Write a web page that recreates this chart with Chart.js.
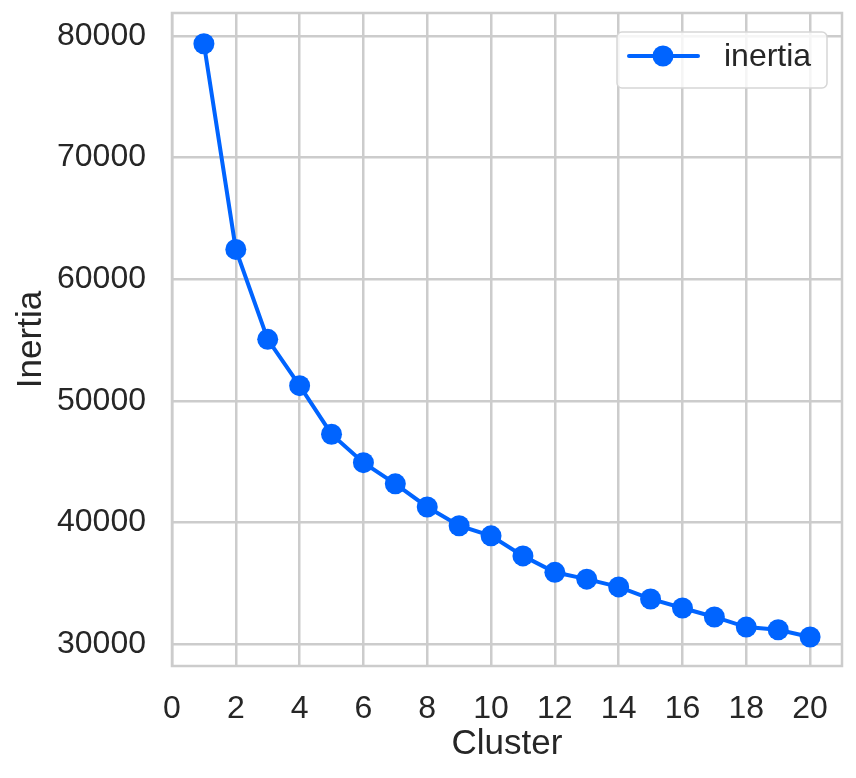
<!DOCTYPE html>
<html><head><meta charset="utf-8">
<script src="https://cdn.jsdelivr.net/npm/chart.js@4.4.1/dist/chart.umd.min.js"></script>
<style>html,body{margin:0;padding:0;background:#fff;}canvas{display:block;}</style>
</head><body>
<canvas id="c" width="856" height="778"></canvas>
<script>
const clusters = [1, 2, 3, 4, 5, 6, 7, 8, 9, 10, 11, 12, 13, 14, 15, 16, 17, 18, 19, 20];
const inertia = [79340, 62440, 55050, 51240, 47250, 44910, 43170, 41270, 39730, 38900,
                 37250, 35900, 35340, 34700, 33710, 32970, 32230, 31400, 31180, 30580];
const xTicks = [0, 2, 4, 6, 8, 10, 12, 14, 16, 18, 20];
const yTicks = [30000, 40000, 50000, 60000, 70000, 80000];
const seriesLabel = 'inertia';
const xTitle = 'Cluster';
const yTitle = 'Inertia';

const FONT = "'Liberation Sans', Arial, sans-serif";
const TEXT = '#262626';
const GRID = '#cccccc';
const BLUE = '#0064ff';

const framePlugin = {
  id: 'frame',
  beforeDatasetsDraw(chart) {
    const {ctx, chartArea: a} = chart;
    ctx.save();
    ctx.strokeStyle = GRID;
    ctx.lineWidth = 2.5;
    ctx.strokeRect(a.left, a.top, a.right - a.left, a.bottom - a.top);
    ctx.restore();
  }
};

const legendPlugin = {
  id: 'mplLegend',
  afterDatasetsDraw(chart) {
    const ctx = chart.ctx;
    const ds = chart.data.datasets[0];
    const x0 = 617, y0 = 32, w = 210, h = 56, r = 5;
    ctx.save();
    ctx.beginPath();
    ctx.roundRect(x0, y0, w, h, r);
    ctx.fillStyle = 'rgba(255,255,255,0.8)';
    ctx.fill();
    ctx.strokeStyle = '#d6d6d6';
    ctx.lineWidth = 1.5;
    ctx.stroke();
    const cy = y0 + 24;
    ctx.strokeStyle = ds.borderColor;
    ctx.lineWidth = ds.borderWidth;
    ctx.lineCap = 'round';
    ctx.beginPath();
    ctx.moveTo(629, cy);
    ctx.lineTo(698, cy);
    ctx.stroke();
    ctx.beginPath();
    ctx.arc(663, cy, ds.pointRadius, 0, Math.PI * 2);
    ctx.fillStyle = ds.pointBackgroundColor;
    ctx.fill();
    ctx.fillStyle = TEXT;
    ctx.font = "32px " + FONT;
    ctx.textBaseline = 'middle';
    ctx.textAlign = 'left';
    ctx.fillText(ds.label, 724, cy + 1);
    ctx.restore();
  }
};

new Chart(document.getElementById('c'), {
  type: 'line',
  data: {
    datasets: [{
      label: seriesLabel,
      data: clusters.map((c, i) => ({x: c, y: inertia[i]})),
      borderColor: BLUE,
      backgroundColor: BLUE,
      pointBackgroundColor: BLUE,
      pointBorderColor: BLUE,
      borderWidth: 4,
      pointRadius: 10.5,
      pointBorderWidth: 0,
      tension: 0,
      fill: false
    }]
  },
  options: {
    responsive: false,
    devicePixelRatio: 1,
    animation: false,
    layout: {padding: {top: 13, right: 14, left: 0, bottom: 0}},
    plugins: {legend: {display: false}, tooltip: {enabled: false}},
    scales: {
      x: {
        type: 'linear',
        min: 0, max: 21,
        offset: false,
        afterBuildTicks(s) { s.ticks = xTicks.map(v => ({value: v})); },
        afterFit(s) { s.height = 112; s.paddingLeft = 0; s.paddingRight = 0; },
        border: {display: false},
        grid: {color: GRID, lineWidth: 2.5, drawTicks: false},
        ticks: {color: TEXT, padding: 24, callback: v => String(v),
                font: {family: FONT, size: 32}, maxRotation: 0, autoSkip: false},
        title: {display: true, text: xTitle, color: TEXT,
                font: {family: FONT, size: 35}, padding: {top: 0, bottom: 13}}
      },
      y: {
        type: 'linear',
        min: 28200, max: 81870,
        afterBuildTicks(s) { s.ticks = yTicks.map(v => ({value: v})); },
        afterFit(s) { s.width = 172; s.paddingTop = 0; s.paddingBottom = 0; },
        border: {display: false},
        grid: {color: GRID, lineWidth: 2.5, drawTicks: false},
        ticks: {color: TEXT, padding: 26, callback: v => String(v), autoSkip: false,
                font: {family: FONT, size: 32}},
        title: {display: true, text: yTitle, color: TEXT,
                font: {family: FONT, size: 35}, padding: {top: 10, bottom: 0}}
      }
    }
  },
  plugins: [framePlugin, legendPlugin]
});
</script>
</body></html>
